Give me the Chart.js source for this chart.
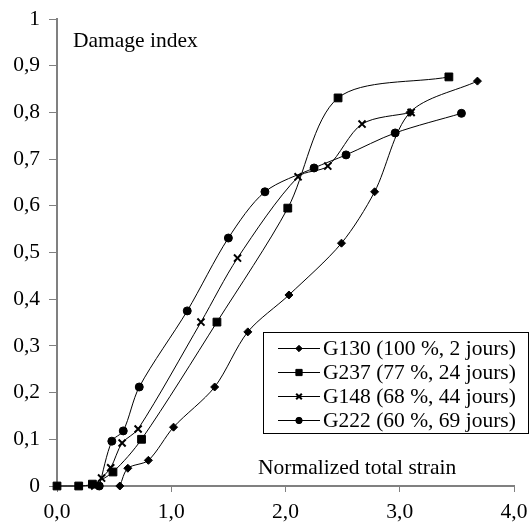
<!DOCTYPE html>
<html lang="en">
<head>
    <meta charset="UTF-8">
    <title>Damage index</title>
    <style>
        html, body { margin: 0; padding: 0; background: #fff; }
        #wrap { width: 530px; height: 532px; }
    </style>
</head>
<body>
    <div id="wrap"><canvas id="damageChart" width="530" height="532"></canvas></div>

    <script src="https://cdn.jsdelivr.net/npm/chart.js"></script>
    <script>
        // series names
        const seriesNames = ['G130 (100 %, 2 jours)', 'G237 (77 %, 24 jours)', 'G148 (68 %, 44 jours)', 'G222 (60 %, 69 jours)'];

        // strain values (x) and damage index (y) per sample
        const g130X = [0.55, 0.62, 0.80, 1.02, 1.38, 1.67, 2.03, 2.49, 2.78, 3.09, 3.68];
        const g130Y = [0, 0.038, 0.055, 0.126, 0.212, 0.33, 0.409, 0.52, 0.63, 0.80, 0.867];

        const g237X = [0, 0.19, 0.31, 0.49, 0.74, 1.40, 2.02, 2.46, 3.43];
        const g237Y = [0, 0, 0.004, 0.03, 0.10, 0.351, 0.595, 0.831, 0.876];

        const g148X = [0.33, 0.39, 0.47, 0.57, 0.71, 1.26, 1.58, 2.11, 2.37, 2.67, 3.10];
        const g148Y = [0, 0.017, 0.039, 0.092, 0.122, 0.351, 0.488, 0.662, 0.685, 0.775, 0.80];

        const g222X = [0.37, 0.48, 0.58, 0.72, 1.14, 1.50, 1.82, 2.25, 2.53, 2.96, 3.54];
        const g222Y = [0, 0.096, 0.118, 0.212, 0.375, 0.531, 0.63, 0.681, 0.709, 0.756, 0.798];

        // tick labels (comma decimals)
        const xTickLabels = ['0,0', '1,0', '2,0', '3,0', '4,0'];
        const yTickLabels = ['0', '0,1', '0,2', '0,3', '0,4', '0,5', '0,6', '0,7', '0,8', '0,9', '1'];

        const yTitle = 'Damage index';
        const xTitle = 'Normalized total strain';

        const serifFont = '"Liberation Serif", "Times New Roman", serif';
        const fontSize = 21.5;
        const markers = [
            { pointStyle: 'rectRot', radius: 4, width: 1 },
            { pointStyle: 'rect', radius: 5.5, width: 1 },
            { pointStyle: 'crossRot', radius: 5, width: 2 },
            { pointStyle: 'circle', radius: 4, width: 1 }
        ];

        function toPoints(xs, ys) {
            return xs.map((x, i) => ({ x: x, y: ys[i] }));
        }

        const allX = [g130X, g237X, g148X, g222X];
        const allY = [g130Y, g237Y, g148Y, g222Y];

        const datasets = seriesNames.map((name, i) => ({
            label: name,
            data: toPoints(allX[i], allY[i]),
            showLine: true,
            borderColor: '#000',
            backgroundColor: '#000',
            borderWidth: 1,
            tension: 0.3,
            pointStyle: markers[i].pointStyle,
            pointRadius: markers[i].radius,
            pointBorderWidth: markers[i].width,
            pointBorderColor: '#000',
            pointBackgroundColor: '#000',
            clip: false
        }));

        // legend box + axis titles drawn inside the plot
        const extrasPlugin = {
            id: 'extras',
            afterDraw(chart) {
                const ctx = chart.ctx;
                ctx.save();
                ctx.font = fontSize + 'px ' + serifFont;
                ctx.fillStyle = '#000';
                ctx.textBaseline = 'middle';
                ctx.textAlign = 'left';
                ctx.fillText(yTitle, 73, 41);
                ctx.fillText(xTitle, 258, 468);

                // legend
                const bx = 263, by = 332, bw = 266, bh = 102;
                ctx.fillStyle = '#fff';
                ctx.fillRect(bx, by, bw, bh);
                ctx.strokeStyle = '#000';
                ctx.lineWidth = 1;
                ctx.strokeRect(bx + 0.5, by + 0.5, bw - 1, bh - 1);

                seriesNames.forEach((name, i) => {
                    const cy = 348 + i * 24;
                    ctx.strokeStyle = '#000';
                    ctx.lineWidth = 1;
                    ctx.beginPath();
                    ctx.moveTo(278, cy + 0.5);
                    ctx.lineTo(320, cy + 0.5);
                    ctx.stroke();
                    ctx.fillStyle = '#000';
                    ctx.lineWidth = markers[i].width;
                    Chart.helpers.drawPoint(ctx, {
                        pointStyle: markers[i].pointStyle,
                        radius: markers[i].radius * 0.8,
                        rotation: 0,
                        borderWidth: markers[i].width
                    }, 299, cy + 0.5);
                    ctx.fillStyle = '#000';
                    ctx.fillText(name, 323, cy + 1);
                });
                ctx.restore();
            }
        };

        const config = {
            type: 'scatter',
            data: { datasets: datasets },
            options: {
                responsive: false,
                animation: false,
                layout: { padding: { top: 19, right: 16, left: 0, bottom: 0 } },
                scales: {
                    x: {
                        type: 'linear',
                        min: 0,
                        max: 4,
                        ticks: {
                            stepSize: 1,
                            padding: 7,
                            color: '#000',
                            font: { family: serifFont, size: fontSize },
                            callback: (v, i) => xTickLabels[i]
                        },
                        grid: { drawOnChartArea: false, drawTicks: true, tickLength: 6, color: '#808080' },
                        border: { color: '#808080', width: 2 },
                        afterFit: (s) => { s.height = 46; s.paddingLeft = 0; s.paddingRight = 0; }
                    },
                    y: {
                        type: 'linear',
                        min: 0,
                        max: 1,
                        ticks: {
                            stepSize: 0.1,
                            padding: 9,
                            color: '#000',
                            font: { family: serifFont, size: fontSize },
                            callback: (v, i) => yTickLabels[i]
                        },
                        grid: { drawOnChartArea: false, drawTicks: true, tickLength: 8, color: '#808080' },
                        border: { color: '#808080', width: 2 },
                        afterFit: (s) => { s.width = 57; s.paddingTop = 0; s.paddingBottom = 0; }
                    }
                },
                plugins: {
                    legend: { display: false },
                    tooltip: { enabled: false }
                }
            },
            plugins: [extrasPlugin]
        };

        const damageChart = new Chart(document.getElementById('damageChart'), config);
    </script>
</body>
</html>
